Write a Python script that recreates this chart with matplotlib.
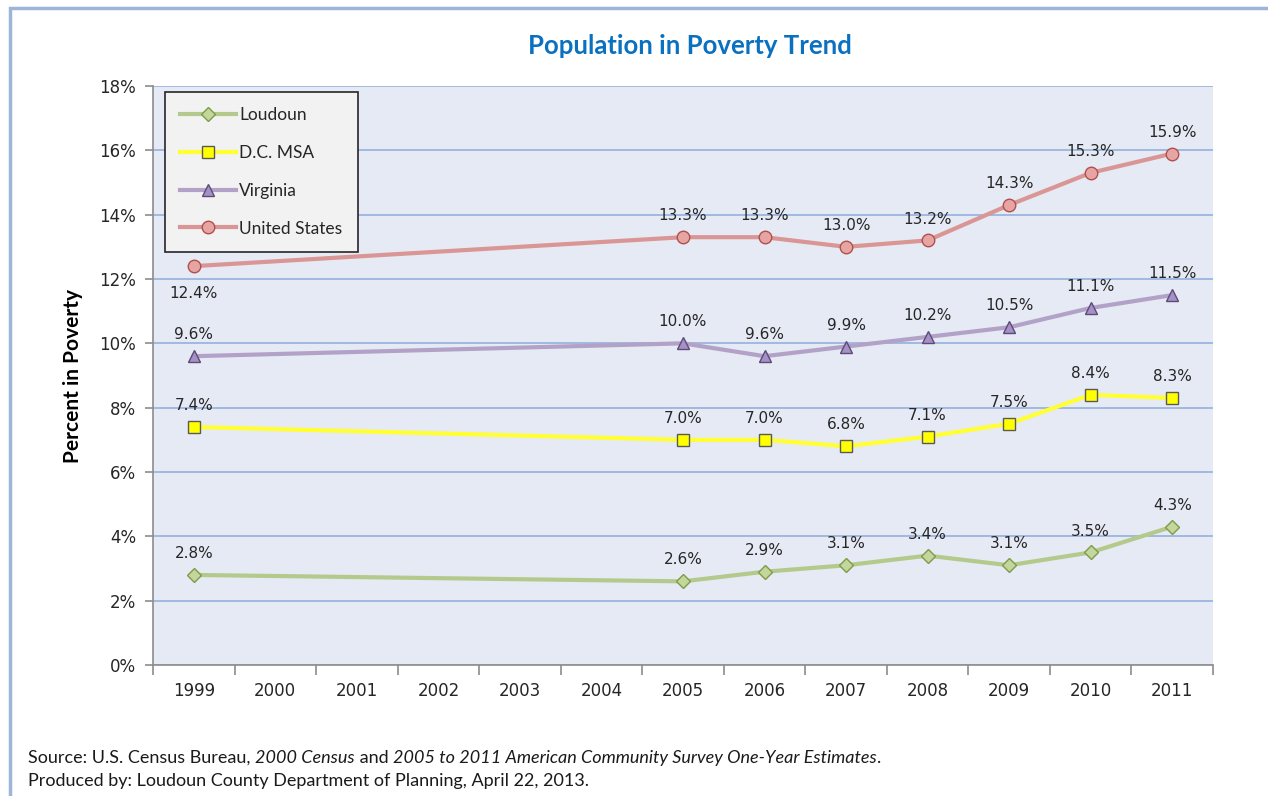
import numpy as np
import matplotlib.pyplot as plt
from matplotlib.patches import Rectangle

years = ['1999', '2000', '2001', '2002', '2003', '2004', '2005',
         '2006', '2007', '2008', '2009', '2010', '2011']
data_years = ['1999', '2005', '2006', '2007', '2008', '2009', '2010', '2011']

loudoun = [2.8, 2.6, 2.9, 3.1, 3.4, 3.1, 3.5, 4.3]
dc_msa = [7.4, 7.0, 7.0, 6.8, 7.1, 7.5, 8.4, 8.3]
virginia = [9.6, 10.0, 9.6, 9.9, 10.2, 10.5, 11.1, 11.5]
united_states = [12.4, 13.3, 13.3, 13.0, 13.2, 14.3, 15.3, 15.9]

y_ticks = [0, 2, 4, 6, 8, 10, 12, 14, 16, 18]

xpos = [years.index(y) for y in data_years]

fig = plt.figure(figsize=(12.68, 7.96), dpi=100)
fig.patch.set_facecolor('white')

# thin frame around the chart (left and top edges visible)
fig.patches.append(Rectangle((10 / 1268, -0.05), 1.2, 1 - 8 / 796 + 0.05,
                             transform=fig.transFigure, fill=False,
                             edgecolor='#9DB5D8', linewidth=2.5))

ax = fig.add_axes([153 / 1268, 1 - 665 / 796, (1213 - 153) / 1268, (665 - 86) / 796])
ax.set_facecolor('#E6EAF4')

series = [
    ('Loudoun', loudoun, '#B4CA8C', 'D', '#C3D69B', '#7F9A48', 7),
    ('D.C. MSA', dc_msa, '#FFFF33', 's', '#FFFF00', '#595959', 8),
    ('Virginia', virginia, '#B3A2C7', '^', '#A592C4', '#5F497A', 9),
    ('United States', united_states, '#D99694', 'o', '#E6A5A3', '#B0504D', 9),
]

for name, vals, lc, mk, mfc, mec, ms in series:
    ax.plot(xpos, vals, color=lc, linewidth=3, marker=mk, markersize=ms,
            markerfacecolor=mfc, markeredgecolor=mec, markeredgewidth=1.0,
            label=name, zorder=3)
    for i, (x, v) in enumerate(zip(xpos, vals)):
        if name == 'United States' and i == 0:
            ax.annotate(f'{v:.1f}%', (x, v), xytext=(0, -14), textcoords='offset points',
                        ha='center', va='top', fontsize=11, color='#262626')
        else:
            ax.annotate(f'{v:.1f}%', (x, v), xytext=(0, 10), textcoords='offset points',
                        ha='center', va='bottom', fontsize=11, color='#262626')

ax.set_xlim(-0.5, len(years) - 0.5)
ax.set_ylim(0, 18)
ax.set_yticks(y_ticks)
ax.set_yticklabels([f'{t}%' for t in y_ticks], fontsize=12, color='#262626')
ax.set_xticks(range(len(years)))
ax.set_xticklabels(years, fontsize=12, color='#262626')
ax.set_xticks(np.arange(-0.5, len(years), 1), minor=True)
ax.tick_params(axis='x', which='major', length=0, pad=12)
ax.tick_params(axis='x', which='minor', length=7, color='#8C8C8C', width=1.2)
ax.tick_params(axis='y', length=6, color='#8C8C8C', width=1.2, pad=6)

ax.yaxis.grid(True, color='#95B0DC', linewidth=1.2)
ax.set_axisbelow(True)
for side in ['top', 'right']:
    ax.spines[side].set_visible(False)
for side in ['left', 'bottom']:
    ax.spines[side].set_color('#8C8C8C')
    ax.spines[side].set_linewidth(1.2)

ax.set_ylabel('Percent in Poverty', fontsize=15, fontweight='bold', family='Lato',
              labelpad=12)

leg = ax.legend(loc='upper left', bbox_to_anchor=(0.011, 0.99), fancybox=False,
                framealpha=1, facecolor='#F2F2F2', edgecolor='#262626',
                prop={'family': 'Lato', 'size': 12.5}, labelspacing=1.25,
                handlelength=3.2, handletextpad=0.2, borderpad=0.9,
                borderaxespad=0)
leg.get_frame().set_linewidth(1.2)
for t in leg.get_texts():
    t.set_color('#262626')

fig.text(0.544, 1 - 46 / 796, 'Population in Poverty Trend', ha='center', va='center',
         fontsize=18.5, fontweight='bold', color='#0A70C0', family='Lato')

# source note with italic publication titles
pieces = [('Source: U.S. Census Bureau, ', 'normal'), ('2000 Census', 'italic'),
          (' and ', 'normal'),
          ('2005 to 2011 American Community Survey One-Year Estimates', 'italic'),
          ('.', 'normal')]
fig.canvas.draw()
renderer = fig.canvas.get_renderer()
x = 28 / 1268
for txt, style in pieces:
    t = fig.text(x, 1 - 758 / 796, txt, ha='left', va='center', fontsize=13,
                 style=style, family='Lato', color='#1A1A1A')
    bb = t.get_window_extent(renderer)
    x += bb.width / fig.bbox.width
fig.text(28 / 1268, 1 - 781 / 796,
         'Produced by: Loudoun County Department of Planning, April 22, 2013.',
         ha='left', va='center', fontsize=13, family='Lato', color='#1A1A1A')

fig.savefig('out.png', dpi=100, facecolor='white')
